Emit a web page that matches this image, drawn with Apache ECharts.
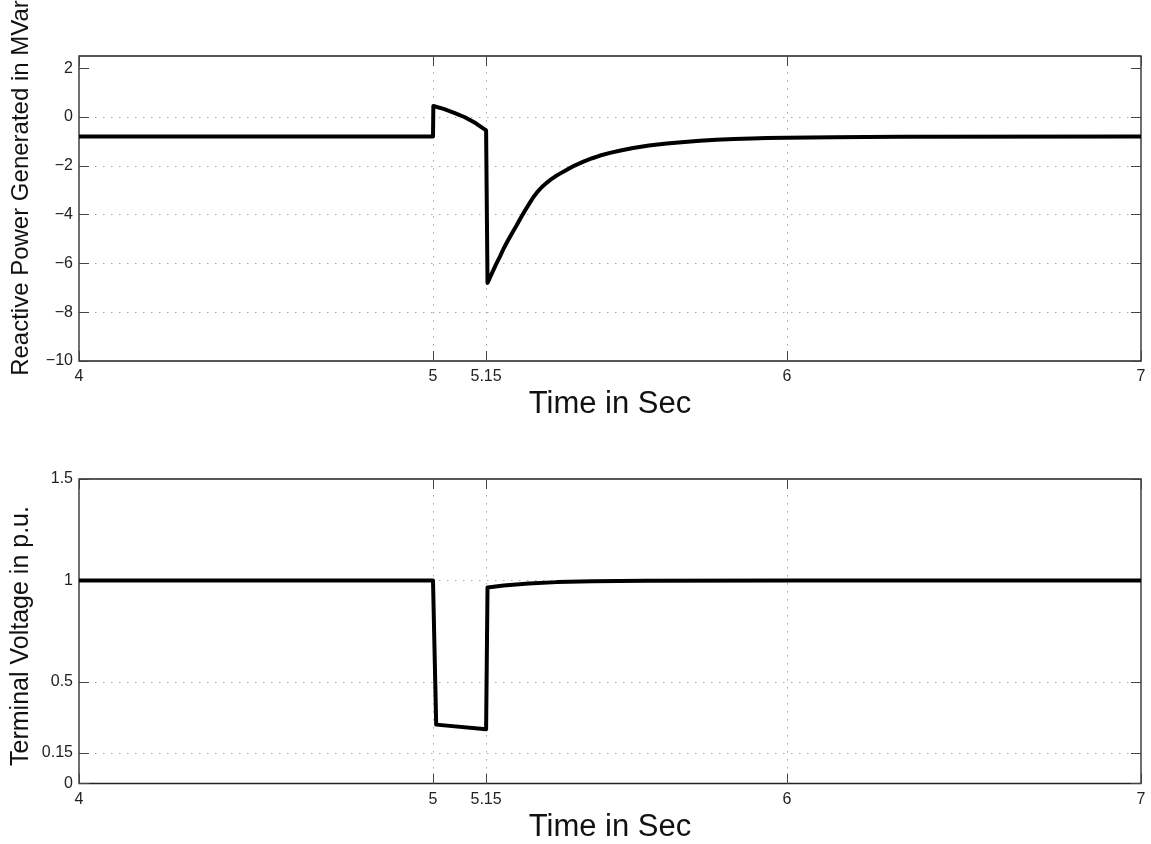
<!DOCTYPE html>
<html>
<head>
<meta charset="utf-8">
<script src="https://cdn.jsdelivr.net/npm/echarts@6/dist/echarts.min.js"></script>
<style>
html,body{margin:0;padding:0;background:#fff;}
#chart{width:1151px;height:844px;}
</style>
</head>
<body>
<div id="chart"></div>
<script>
// ---- data ----
const xTicks = [4, 5, 5.15, 6, 7];
const qYTicks = [-10, -8, -6, -4, -2, 0, 2];
const vYTicks = [0, 0.15, 0.5, 1, 1.5];

const qTime = [4, 5.0, 5.001, 5.03, 5.06, 5.09, 5.12, 5.15, 5.154, 5.165, 5.177, 5.189, 5.2, 5.212, 5.224, 5.236, 5.248, 5.26, 5.272, 5.283, 5.295, 5.307, 5.32, 5.333, 5.346, 5.36, 5.377, 5.4, 5.425, 5.45, 5.472, 5.5, 5.53, 5.565, 5.61, 5.66, 5.71, 5.754, 5.8, 5.85, 5.9, 5.943, 6.0, 6.13, 6.32, 7];
const qValues = [-0.8, -0.8, 0.45, 0.33, 0.17, -0.01, -0.25, -0.55, -6.8, -6.45, -6.07, -5.72, -5.38, -5.05, -4.74, -4.45, -4.13, -3.83, -3.55, -3.3, -3.07, -2.88, -2.71, -2.56, -2.43, -2.31, -2.17, -1.99, -1.83, -1.69, -1.58, -1.47, -1.37, -1.27, -1.17, -1.09, -1.02, -0.97, -0.93, -0.9, -0.88, -0.86, -0.85, -0.83, -0.81, -0.8];

const vTime = [4, 5.0, 5.009, 5.15, 5.154, 5.2, 5.27, 5.35, 5.45, 5.6, 6, 7];
const vValues = [1.0, 1.0, 0.29, 0.267, 0.965, 0.975, 0.985, 0.992, 0.996, 0.999, 1.0, 1.0];

const xName = 'Time in Sec';
const qName = 'Reactive Power Generated in MVar';
const vName = 'Terminal Voltage in p.u.';

// ---- chart ----
const FONT = "'Liberation Sans', Arial, Helvetica, sans-serif";
const pairs = (a, b) => a.map((t, i) => [t, b[i]]);
const fmt = v => String(v).replace('-', '\u2212');

const gridLine = { show: true, showMinLine: false, showMaxLine: false, lineStyle: { color: '#a8a8a8', width: 1, type: [1.5, 6.5] } };
const tickStyle = { show: true, inside: true, length: 10, lineStyle: { color: '#444', width: 1 } };

function mainX(gi) {
  return {
    type: 'value', gridIndex: gi, min: 4, max: 7, position: 'bottom',
    name: xName, nameLocation: 'middle', nameGap: 28,
    nameTextStyle: { fontFamily: FONT, fontSize: 31, color: '#111' },
    axisLine: { show: false, onZero: false },
    axisTick: Object.assign({ customValues: xTicks }, tickStyle),
    axisLabel: { customValues: xTicks, fontFamily: FONT, fontSize: 16, color: '#222', margin: 8, formatter: fmt },
    splitLine: gridLine
  };
}
function topX(gi) {
  return {
    type: 'value', gridIndex: gi, min: 4, max: 7, position: 'top',
    axisLine: { show: false, onZero: false },
    axisTick: Object.assign({ customValues: xTicks }, tickStyle),
    axisLabel: { show: false },
    splitLine: { show: false }
  };
}
function mainY(gi, mn, mx, ticks) {
  return {
    type: 'value', gridIndex: gi, min: mn, max: mx, position: 'left',
    axisLine: { show: false, onZero: false },
    axisTick: Object.assign({ customValues: ticks }, tickStyle),
    axisLabel: { customValues: ticks, fontFamily: FONT, fontSize: 16, color: '#222', margin: 6, formatter: fmt },
    splitLine: gridLine
  };
}
function rightY(gi, mn, mx, ticks) {
  return {
    type: 'value', gridIndex: gi, min: mn, max: mx, position: 'right',
    axisLine: { show: false, onZero: false },
    axisTick: Object.assign({ customValues: ticks }, tickStyle),
    axisLabel: { show: false },
    splitLine: { show: false }
  };
}

const chart = echarts.init(document.getElementById('chart'), null, { renderer: 'canvas' });
chart.setOption({
  animation: false,
  backgroundColor: '#fff',
  grid: [
    { left: 79, top: 56, width: 1062, height: 305, show: true, borderColor: '#222', borderWidth: 1.3, backgroundColor: 'transparent' },
    { left: 79, top: 479, width: 1062, height: 304.5, show: true, borderColor: '#222', borderWidth: 1.3, backgroundColor: 'transparent' }
  ],
  xAxis: [mainX(0), topX(0), mainX(1), topX(1)],
  yAxis: [
    mainY(0, -10, 2.5, qYTicks), rightY(0, -10, 2.5, qYTicks),
    mainY(1, 0, 1.5, vYTicks), rightY(1, 0, 1.5, vYTicks)
  ],
  graphic: [
    { type: 'text', x: 21, y: 188, rotation: Math.PI / 2,
      style: { text: qName, fontFamily: FONT, fontSize: 24, fill: '#111', textAlign: 'center', textVerticalAlign: 'middle' } },
    { type: 'text', x: 21, y: 636, rotation: Math.PI / 2,
      style: { text: vName, fontFamily: FONT, fontSize: 25, fill: '#111', textAlign: 'center', textVerticalAlign: 'middle' } }
  ],
  series: [
    { type: 'line', xAxisIndex: 0, yAxisIndex: 0, data: pairs(qTime, qValues), showSymbol: false, symbol: 'none',
      lineStyle: { color: '#000', width: 4, join: 'round' }, z: 5 },
    { type: 'line', xAxisIndex: 2, yAxisIndex: 2, data: pairs(vTime, vValues), showSymbol: false, symbol: 'none',
      lineStyle: { color: '#000', width: 4, join: 'round' }, z: 5 }
  ]
});
</script>
</body>
</html>
